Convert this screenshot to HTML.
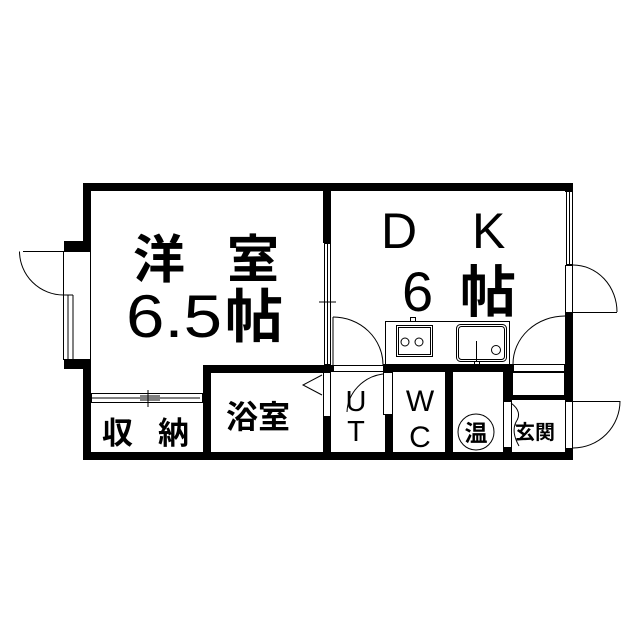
<!DOCTYPE html>
<html><head><meta charset="utf-8"><style>
html,body{margin:0;padding:0;background:#fff;width:640px;height:640px;overflow:hidden}
svg{display:block}
text{font-family:"Liberation Sans","Noto Sans CJK JP",sans-serif;fill:#000}
.b{font-weight:bold}
</style></head><body>
<svg width="640" height="640" viewBox="0 0 640 640" xmlns="http://www.w3.org/2000/svg">
<rect width="640" height="640" fill="#fff"/>
<g fill="#000">
<rect x="83" y="183" width="490" height="8"/>
<rect x="83" y="183" width="8" height="68"/>
<rect x="64" y="241" width="27" height="10"/>
<rect x="64" y="360" width="27" height="9"/>
<rect x="83" y="360" width="8" height="100"/>
<rect x="83" y="452" width="490" height="8"/>
<rect x="323" y="183" width="8" height="60"/>
<rect x="323" y="365" width="10" height="7"/>
<rect x="323" y="417" width="8" height="40"/>
<rect x="203" y="365" width="128" height="8"/>
<rect x="203" y="365" width="8" height="92"/>
<rect x="383" y="364" width="130" height="8"/>
<rect x="385" y="415" width="8" height="42"/>
<rect x="445" y="364" width="8" height="93"/>
<rect x="503" y="364" width="9" height="38"/>
<rect x="503" y="448" width="9" height="9"/>
<rect x="503" y="396" width="70" height="4"/>
<rect x="565" y="183" width="8" height="9"/>
<rect x="565" y="312" width="8" height="90"/>
<rect x="565" y="448" width="8" height="12"/>
</g>
<g fill="none" stroke="#000" stroke-width="1">
<rect x="63.5" y="251.5" width="27" height="108"/>
<line x1="68" y1="295" x2="68" y2="360"/><line x1="73" y1="295" x2="73" y2="360"/>
<line x1="63" y1="295" x2="73" y2="295"/>
<path d="M63.5 295 A44 44 0 0 1 19.5 251.5"/>
<line x1="23" y1="251.5" x2="63" y2="251.5"/>
<rect x="324.5" y="243.5" width="6" height="121"/>
<line x1="327.5" y1="243" x2="327.5" y2="365"/>
<line x1="319" y1="302" x2="336" y2="302"/>
<line x1="333" y1="317" x2="333" y2="365"/>
<path d="M333 317 A50 48 0 0 1 383 365"/>
<rect x="333.5" y="365.5" width="50" height="6"/>
<path d="M565 316 A52 48 0 0 0 513 364"/>
<rect x="513.5" y="364.5" width="51" height="7"/>
<rect x="512.5" y="372.5" width="52" height="23"/>
<rect x="91.5" y="393.5" width="111" height="9"/>
<line x1="92" y1="398" x2="200" y2="398"/>
<line x1="148" y1="390" x2="148" y2="407"/>
<line x1="140" y1="396" x2="160" y2="396"/><line x1="140" y1="400" x2="160" y2="400"/>
<rect x="323.5" y="372.5" width="7" height="44"/>
<path d="M322 375 L303 385 L322 395"/>
<rect x="383.5" y="372.5" width="9" height="42"/>
<path d="M383 374 A42 40 0 0 0 347 412"/>
<rect x="503.5" y="401.5" width="8" height="46"/>
<path d="M511 403 Q523 412 516 422 Q511 432 519 446"/>
<line x1="515" y1="425" x2="528" y2="425"/>
<rect x="566.5" y="191.5" width="6" height="73"/>
<line x1="569.5" y1="192" x2="569.5" y2="264"/>
<rect x="565.5" y="265.5" width="7" height="47"/>
<path d="M573 265 A44 47 0 0 1 617 312"/>
<line x1="573" y1="312.5" x2="617" y2="312.5"/>
<rect x="565.5" y="401.5" width="7" height="47"/>
<path d="M620 401 A47 47 0 0 1 573 448"/>
<line x1="573" y1="401.5" x2="620" y2="401.5"/>
<rect x="385.5" y="321.5" width="124" height="43"/>
<rect x="396.5" y="325.5" width="36" height="31"/>
<rect x="398.5" y="327.5" width="32" height="27"/>
<circle cx="405" cy="342" r="4"/><circle cx="419" cy="342" r="4"/>
<rect x="456.5" y="324.5" width="50" height="37" rx="4"/>
<rect x="458.5" y="326.5" width="46" height="33" rx="3"/>
<line x1="476.5" y1="341" x2="476.5" y2="361"/>
<circle cx="496" cy="350" r="4.5"/>
<rect x="410.5" y="317.5" width="5" height="4"/>
<rect x="474.5" y="361.5" width="5" height="3"/>
<circle cx="476" cy="432" r="18"/>
</g>
<g>
<text class="b" x="133" y="278" font-size="52">洋</text>
<text class="b" x="227" y="278" font-size="52">室</text>
<text x="126" y="337" font-size="60" textLength="96" lengthAdjust="spacingAndGlyphs">6.5</text>
<text class="b" x="225" y="337" font-size="58">帖</text>
<text x="381" y="248" font-size="50">D</text>
<text x="472" y="248" font-size="50">K</text>
<text x="402" y="311" font-size="56">6</text>
<text class="b" x="460" y="312" font-size="56">帖</text>
<text class="b" x="102" y="444" font-size="31">収</text>
<text class="b" x="158" y="444" font-size="31">納</text>
<text class="b" x="226" y="428" font-size="32">浴室</text>
<text x="356" y="411" font-size="29" text-anchor="middle">U</text>
<text x="356" y="441" font-size="29" text-anchor="middle">T</text>
<text x="420" y="411" font-size="30" text-anchor="middle">W</text>
<text x="420" y="447" font-size="30" text-anchor="middle">C</text>
<text class="b" x="476" y="441" font-size="23" text-anchor="middle">温</text>
<text class="b" x="515" y="439" font-size="20">玄関</text>
</g>
</svg>
</body></html>
